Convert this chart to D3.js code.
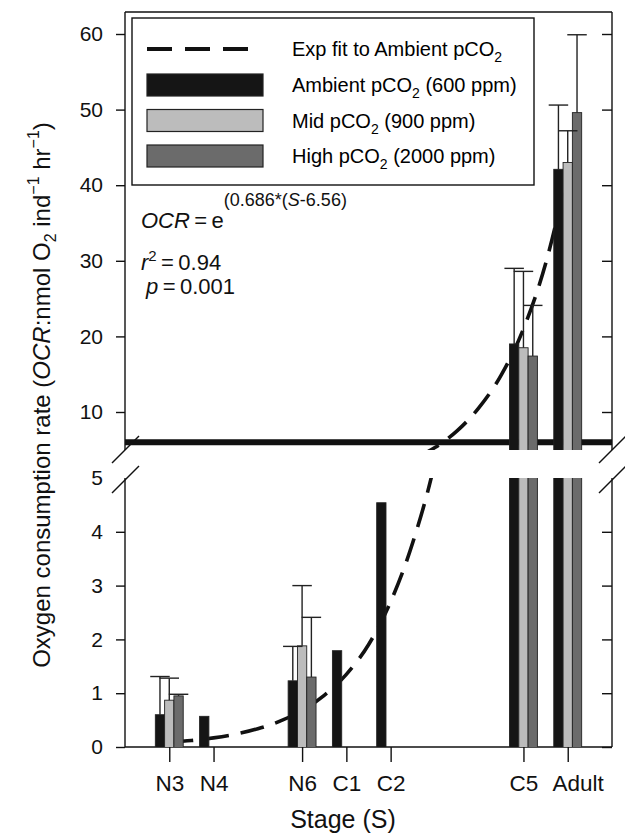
<!DOCTYPE html>
<html>
<head>
<meta charset="utf-8">
<script src="https://cdn.jsdelivr.net/npm/d3@7"></script>
<style>
  body { margin: 0; background: #fff; }
  svg { font-family: "Liberation Sans", Arial, sans-serif; }
</style>
</head>
<body>
<svg id="chart" width="625" height="834"></svg>
<script>
// stages and their numeric position S
const stages = ["N3", "N4", "N6", "C1", "C2", "C5", "Adult"];
const stageS = [3, 4, 6, 7, 8, 11, 12];

// oxygen consumption rate, nmol O2 ind-1 hr-1 (null = not measured)
const ambient = [0.6, 0.57, 1.23, 1.79, 4.54, 19.0, 42.1];
const ambientErr = [0.71, null, 0.64, null, null, 10.0, 8.5];
const mid = [0.87, null, 1.88, null, null, 18.5, 43.0];
const midErr = [0.41, null, 1.12, null, null, 10.1, 4.2];
const high = [0.95, null, 1.30, null, null, 17.4, 49.6];
const highErr = [0.03, null, 1.11, null, null, 6.7, 10.3];

// exp fit to ambient
const fitS = [3, 3.5, 4, 4.5, 5, 5.5, 6, 6.5, 7, 7.5, 8, 8.5, 9, 9.5, 10, 10.5, 11, 11.5, 12];
const fitOCR = [0.09, 0.12, 0.17, 0.24, 0.34, 0.48, 0.68, 0.96, 1.35, 1.9, 2.7, 3.8, 5.3, 7.5, 10.6, 14.9, 21, 29.6, 41.8];

const upperTicks = [10, 20, 30, 40, 50, 60];
const lowerTicks = [0, 1, 2, 3, 4, 5];

const seriesNames = ["Ambient", "Mid", "High"];
const seriesPpm = ["600", "900", "2000"];
const fills = ["#151515", "#bcbcbc", "#6b6b6b"];

const svg = d3.select("#chart");

const plotL = 125, plotR = 612, plotT = 12, plotB = 747;
const upperBottom = 450, lowerTop = 478;

const x = d3.scaleLinear().domain([2, 13]).range([plotL, plotR]);
const yHigh = d3.scaleLinear().domain([10, 60]).range([412, 34]);
const yLow = d3.scaleLinear().domain([0, 5]).range([plotB, lowerTop]);

const defs = svg.append("defs");
defs.append("clipPath").attr("id", "clipUp")
    .append("rect").attr("x", plotL).attr("y", plotT).attr("width", plotR - plotL).attr("height", upperBottom - plotT);
defs.append("clipPath").attr("id", "clipLow")
    .append("rect").attr("x", plotL).attr("y", lowerTop).attr("width", plotR - plotL).attr("height", plotB - lowerTop);

// axis frame lines
const frame = svg.append("g").style("stroke", "#111").style("stroke-width", 1.4).style("fill", "none");
frame.append("line").attr("x1", plotL).attr("x2", plotR).attr("y1", plotT).attr("y2", plotT);
[plotL, plotR].forEach(ax => {
    frame.append("line").attr("x1", ax).attr("x2", ax).attr("y1", plotT).attr("y2", upperBottom);
    frame.append("line").attr("x1", ax).attr("x2", ax).attr("y1", lowerTop).attr("y2", plotB);
    // break marks
    [upperBottom, lowerTop + 2].forEach(by => {
        frame.append("line")
            .attr("x1", ax - 13).attr("y1", by + 13)
            .attr("x2", ax + 14).attr("y2", by - 14);
    });
});
frame.append("line").attr("x1", plotL).attr("x2", plotR).attr("y1", plotB).attr("y2", plotB);

// y axes
function styleAxis(g) {
    g.select(".domain").remove();
    g.selectAll(".tick line").style("stroke", "#111").style("stroke-width", 1.4);
    g.selectAll(".tick text").style("font-size", "21px").style("fill", "#111")
        .style("font-family", "Liberation Sans, Arial, sans-serif");
}
svg.append("g").attr("transform", `translate(${plotL},0)`)
    .call(d3.axisLeft(yHigh).tickValues(upperTicks).tickSize(9).tickPadding(13).tickFormat(d3.format("d")))
    .call(styleAxis);
const lowAxis = svg.append("g").attr("transform", `translate(${plotL},0)`)
    .call(d3.axisLeft(yLow).tickValues(lowerTicks).tickSize(9).tickPadding(13).tickFormat(d3.format("d")))
    .call(styleAxis);
lowAxis.selectAll(".tick").filter(d => d === 5).select("line").remove();

svg.append("g").attr("transform", `translate(${plotR},0)`)
    .call(d3.axisLeft(yHigh).tickValues(upperTicks).tickSize(10).tickFormat(""))
    .call(styleAxis);
svg.append("g").attr("transform", `translate(${plotR},0)`)
    .call(d3.axisLeft(yLow).tickValues(lowerTicks.slice(0, 5)).tickSize(10).tickFormat(""))
    .call(styleAxis);

// x axis
const xAxis = svg.append("g").attr("transform", `translate(0,${plotB})`)
    .call(d3.axisBottom(x).tickValues(stageS).tickFormat((d, i) => stages[i]).tickSize(15).tickPadding(13))
    .call(styleAxis);
xAxis.selectAll(".tick text").style("font-size", "22.5px");
// the "Adult" label sits a little right of its tick in the original
xAxis.selectAll(".tick text").filter(d => d === 12).attr("dx", 10);

// thick line at bottom of upper panel
svg.append("line")
    .attr("x1", plotL).attr("x2", plotR)
    .attr("y1", yHigh(6)).attr("y2", yHigh(6))
    .style("stroke", "#111").style("stroke-width", 6);

// panels
const panels = [
    { y: yHigh, clip: "url(#clipUp)" },
    { y: yLow, clip: "url(#clipLow)" }
];

const bw = 0.21;
const series = [
    { vals: ambient, err: ambientErr },
    { vals: mid, err: midErr },
    { vals: high, err: highErr }
];

panels.forEach(p => {
    const g = svg.append("g").attr("clip-path", p.clip);

    const line = d3.line()
        .x((d, i) => x(fitS[i]))
        .y(d => p.y(d))
        .curve(d3.curveMonotoneX);
    g.append("path")
        .datum(fitOCR)
        .attr("d", line)
        .style("fill", "none")
        .style("stroke", "#111")
        .style("stroke-width", 3.6)
        .style("stroke-dasharray", "24,12");

    series.forEach((s, si) => {
        const pts = stageS.map((S, i) => ({ S: S, v: s.vals[i], e: s.err[i] })).filter(d => d.v !== null);
        g.selectAll(null)
            .data(pts)
            .enter()
            .append("rect")
            .attr("x", d => x(d.S + (si - 1) * bw - bw / 2))
            .attr("width", x(bw) - x(0))
            .attr("y", d => p.y(d.v))
            .attr("height", d => p.y(-60) - p.y(d.v))
            .style("fill", fills[si])
            .style("stroke", "#222")
            .style("stroke-width", 0.9);
    });

    series.forEach((s, si) => {
        const pts = stageS.map((S, i) => ({ S: S, v: s.vals[i], e: s.err[i] })).filter(d => d.e !== null);
        const eg = g.selectAll(null).data(pts).enter().append("g")
            .style("stroke", "#222").style("stroke-width", 1.4);
        eg.append("line")
            .attr("x1", d => x(d.S + (si - 1) * bw)).attr("x2", d => x(d.S + (si - 1) * bw))
            .attr("y1", d => p.y(d.v)).attr("y2", d => p.y(d.v + d.e));
        eg.append("line")
            .attr("x1", d => x(d.S + (si - 1) * bw - 0.22)).attr("x2", d => x(d.S + (si - 1) * bw + 0.22))
            .attr("y1", d => p.y(d.v + d.e)).attr("y2", d => p.y(d.v + d.e));
    });
});

// legend
const lg = svg.append("g");
lg.append("rect").attr("x", 132).attr("y", 18).attr("width", 402).attr("height", 167)
    .style("fill", "#fff").style("stroke", "#111").style("stroke-width", 1.4);
lg.append("line").attr("x1", 147).attr("x2", 252).attr("y1", 49).attr("y2", 49)
    .style("stroke", "#111").style("stroke-width", 4).style("stroke-dasharray", "25,13");
function co2Label(t, before, after) {
    t.append("tspan").text(before + "pCO");
    t.append("tspan").attr("dy", 6).style("font-size", "14px").text("2");
    t.append("tspan").attr("dy", -6).text(after);
}
co2Label(lg.append("text").attr("x", 292).attr("y", 56).style("font-size", "20px"), "Exp fit to Ambient ", "");
seriesNames.forEach((n, i) => {
    const yc = 85 + i * 35.5;
    lg.append("rect").attr("x", 147).attr("y", yc - 11).attr("width", 116).attr("height", 22)
        .style("fill", fills[i]).style("stroke", "#222").style("stroke-width", 1.2);
    co2Label(lg.append("text").attr("x", 292).attr("y", yc + 7).style("font-size", "20px"),
        n + " ", ` (${seriesPpm[i]} ppm)`);
});

// fit equation
const eq = svg.append("g").style("font-size", "22px").style("fill", "#111");
const t1 = eq.append("text").attr("x", 141).attr("y", 228);
t1.append("tspan").style("font-style", "italic").text("OCR");
t1.append("tspan").text("\u2009=\u2009e");
t1.append("tspan").attr("dy", -22).style("font-size", "18px").text("(0.686*(");
t1.append("tspan").style("font-size", "18px").style("font-style", "italic").text("S");
t1.append("tspan").style("font-size", "18px").text("-6.56)");
const t2 = eq.append("text").attr("x", 141).attr("y", 270);
t2.append("tspan").style("font-style", "italic").text("r");
t2.append("tspan").attr("dy", -9).style("font-size", "15px").text("2");
t2.append("tspan").attr("dy", 9).text("\u2009=\u20090.94");
const t3 = eq.append("text").attr("x", 146).attr("y", 294);
t3.append("tspan").style("font-style", "italic").text("p");
t3.append("tspan").text("\u2009=\u20090.001");

// axis titles
svg.append("text").attr("x", 343).attr("y", 828).attr("text-anchor", "middle")
    .style("font-size", "25px").style("fill", "#111").text("Stage (S)");

const yt = svg.append("text")
    .attr("transform", `translate(50,395) rotate(-90)`)
    .attr("text-anchor", "middle")
    .style("font-size", "24px").style("fill", "#111");
yt.append("tspan").text("Oxygen consumption rate (");
yt.append("tspan").style("font-style", "italic").text("OCR");
yt.append("tspan").text(":nmol O");
yt.append("tspan").attr("dy", 6).style("font-size", "16px").text("2");
yt.append("tspan").attr("dy", -6).text(" ind");
yt.append("tspan").attr("dy", -11).style("font-size", "16px").text("\u22121");
yt.append("tspan").attr("dy", 11).text(" hr");
yt.append("tspan").attr("dy", -11).style("font-size", "16px").text("\u22121");
yt.append("tspan").attr("dy", 11).text(")");
</script>
</body>
</html>
